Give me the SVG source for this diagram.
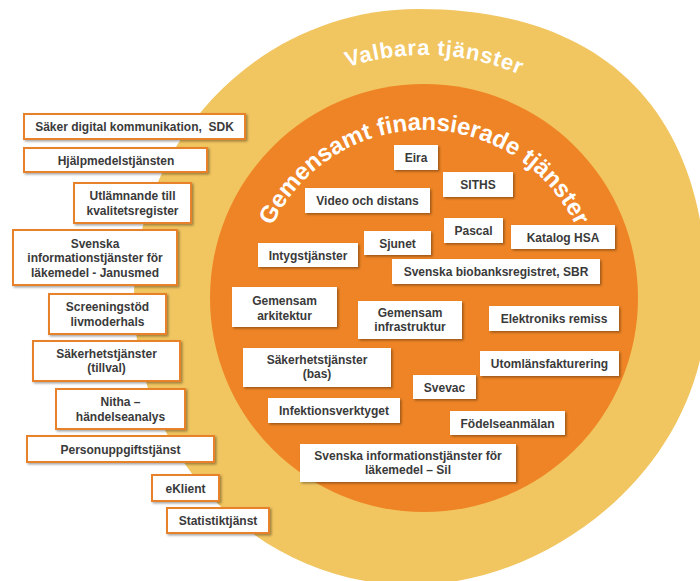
<svg xmlns="http://www.w3.org/2000/svg" xmlns:xlink="http://www.w3.org/1999/xlink" width="700" height="581" viewBox="0 0 700 581">
  <style>
    .lb rect { fill: #ffffff; stroke: #E8822C; stroke-width: 2; filter: url(#sh); }
    .ib rect { fill: #ffffff; filter: url(#sh); }
    .t { font-family: "Liberation Sans", Arial, sans-serif; font-weight: bold; font-size: 12px; fill: #3a3a3a; text-anchor: middle; white-space: pre; }
    .ttl { font-family: "Liberation Sans", Arial, sans-serif; font-weight: bold; fill: #ffffff; text-anchor: middle; }
  </style>
  <defs>
    <filter id="sh" x="-10%" y="-20%" width="130%" height="160%">
      <feDropShadow dx="1.5" dy="1.5" stdDeviation="1" flood-color="#000000" flood-opacity="0.35"/>
    </filter>
    <path id="arcOuter" d="M 181,298 A 243,243 0 0 1 667,298"/>
    <path id="arcInner" d="M 256,298 A 168,168 0 0 1 592,298"/>
  </defs>

  <rect width="700" height="581" fill="#ffffff"/>

  <!-- rings -->
  <g id="rings">
    <path d="M 418,9 C 593,9 707,100 707,300 C 707,465 552,585 412,585 C 258,585 134,457 134,298 C 134,139 261,9 418,9 Z" fill="#F1C55F"/>
    <circle cx="424" cy="298" r="214" fill="#EE8425"/>
  </g>

  <!-- ring titles -->
  <g id="titles">
    <text class="ttl" font-size="22" letter-spacing="0.8" transform="rotate(2.5 424 298)"><textPath xlink:href="#arcOuter" href="#arcOuter" startOffset="50%">Valbara tjänster</textPath></text>
    <text class="ttl" font-size="24"><textPath xlink:href="#arcInner" href="#arcInner" startOffset="50%">Gemensamt finansierade tjänster</textPath></text>
  </g>

  <!-- optional services (outside the inner ring) -->
  <g id="optional">
    <g id="sdk" class="lb"><rect x="24" y="114" width="221" height="25"/><text class="t" x="134.5" y="131">Säker digital kommunikation,  SDK</text></g>
    <g id="hjalpmedel" class="lb"><rect x="24" y="148" width="183" height="24"/><text class="t" x="116" y="164.5">Hjälpmedelstjänsten</text></g>
    <g id="kvalitetsregister" class="lb"><rect x="74" y="183" width="117" height="40"/><text class="t" x="132.5" y="200">Utlämnande till</text><text class="t" x="132.5" y="214.5">kvalitetsregister</text></g>
    <g id="janusmed" class="lb"><rect x="13" y="230" width="164" height="55"/><text class="t" x="95" y="247.5">Svenska</text><text class="t" x="95" y="262">informationstjänster för</text><text class="t" x="95" y="276.5">läkemedel - Janusmed</text></g>
    <g id="screening" class="lb"><rect x="49" y="294" width="117" height="40"/><text class="t" x="107.5" y="311">Screeningstöd</text><text class="t" x="107.5" y="325.5">livmoderhals</text></g>
    <g id="sakerhet-tillval" class="lb"><rect x="33" y="341" width="147" height="40"/><text class="t" x="106.5" y="357.5">Säkerhetstjänster</text><text class="t" x="106.5" y="372">(tillval)</text></g>
    <g id="nitha" class="lb"><rect x="56" y="389" width="129" height="40"/><text class="t" x="120.5" y="406">Nitha –</text><text class="t" x="120.5" y="420.5">händelseanalys</text></g>
    <g id="personuppgift" class="lb"><rect x="27" y="436" width="187" height="26"/><text class="t" x="120.5" y="453.5">Personuppgiftstjänst</text></g>
    <g id="eklient" class="lb"><rect x="152" y="475" width="67" height="26"/><text class="t" x="185.5" y="492.5">eKlient</text></g>
    <g id="statistik" class="lb"><rect x="167" y="508" width="102" height="25"/><text class="t" x="218" y="525">Statistiktjänst</text></g>
  </g>

  <!-- jointly financed services (inside the inner ring) -->
  <g id="joint">
    <g id="eira" class="ib"><rect x="394" y="145" width="44" height="25"/><text class="t" x="416" y="162">Eira</text></g>
    <g id="siths" class="ib"><rect x="443" y="172" width="70" height="25"/><text class="t" x="478" y="189">SITHS</text></g>
    <g id="video" class="ib"><rect x="305" y="188" width="125" height="25"/><text class="t" x="367.5" y="205">Video och distans</text></g>
    <g id="pascal" class="ib"><rect x="444" y="218" width="59" height="25"/><text class="t" x="473.5" y="235">Pascal</text></g>
    <g id="hsa" class="ib"><rect x="511" y="225" width="104" height="24"/><text class="t" x="563" y="241.5">Katalog HSA</text></g>
    <g id="sjunet" class="ib"><rect x="364" y="231" width="67" height="24"/><text class="t" x="397.5" y="247.5">Sjunet</text></g>
    <g id="intyg" class="ib"><rect x="258" y="243" width="100" height="24"/><text class="t" x="308" y="259.5">Intygstjänster</text></g>
    <g id="sbr" class="ib"><rect x="392" y="259" width="208" height="25"/><text class="t" x="496" y="276">Svenska biobanksregistret, SBR</text></g>
    <g id="arkitektur" class="ib"><rect x="232" y="287" width="105" height="40"/><text class="t" x="284.5" y="305">Gemensam</text><text class="t" x="284.5" y="319.5">arkitektur</text></g>
    <g id="infrastruktur" class="ib"><rect x="358" y="301" width="104" height="38"/><text class="t" x="410" y="316.5">Gemensam</text><text class="t" x="410" y="331">infrastruktur</text></g>
    <g id="remiss" class="ib"><rect x="489" y="306" width="130" height="25"/><text class="t" x="554" y="323">Elektroniks remiss</text></g>
    <g id="sakerhet-bas" class="ib"><rect x="243" y="348" width="148" height="39"/><text class="t" x="317" y="363.5">Säkerhetstjänster</text><text class="t" x="317" y="378">(bas)</text></g>
    <g id="utomlans" class="ib"><rect x="480" y="351" width="139" height="25"/><text class="t" x="549.5" y="368">Utomlänsfakturering</text></g>
    <g id="svevac" class="ib"><rect x="413" y="375" width="63" height="24"/><text class="t" x="444.5" y="391.5">Svevac</text></g>
    <g id="infektion" class="ib"><rect x="268" y="398" width="132" height="25"/><text class="t" x="334" y="415">Infektionsverktyget</text></g>
    <g id="fodelse" class="ib"><rect x="450" y="411" width="115" height="24"/><text class="t" x="507.5" y="427.5">Födelseanmälan</text></g>
    <g id="sil" class="ib"><rect x="300" y="444" width="216" height="38"/><text class="t" x="408" y="459.5">Svenska informationstjänster för</text><text class="t" x="408" y="474">läkemedel – Sil</text></g>
  </g>
</svg>
